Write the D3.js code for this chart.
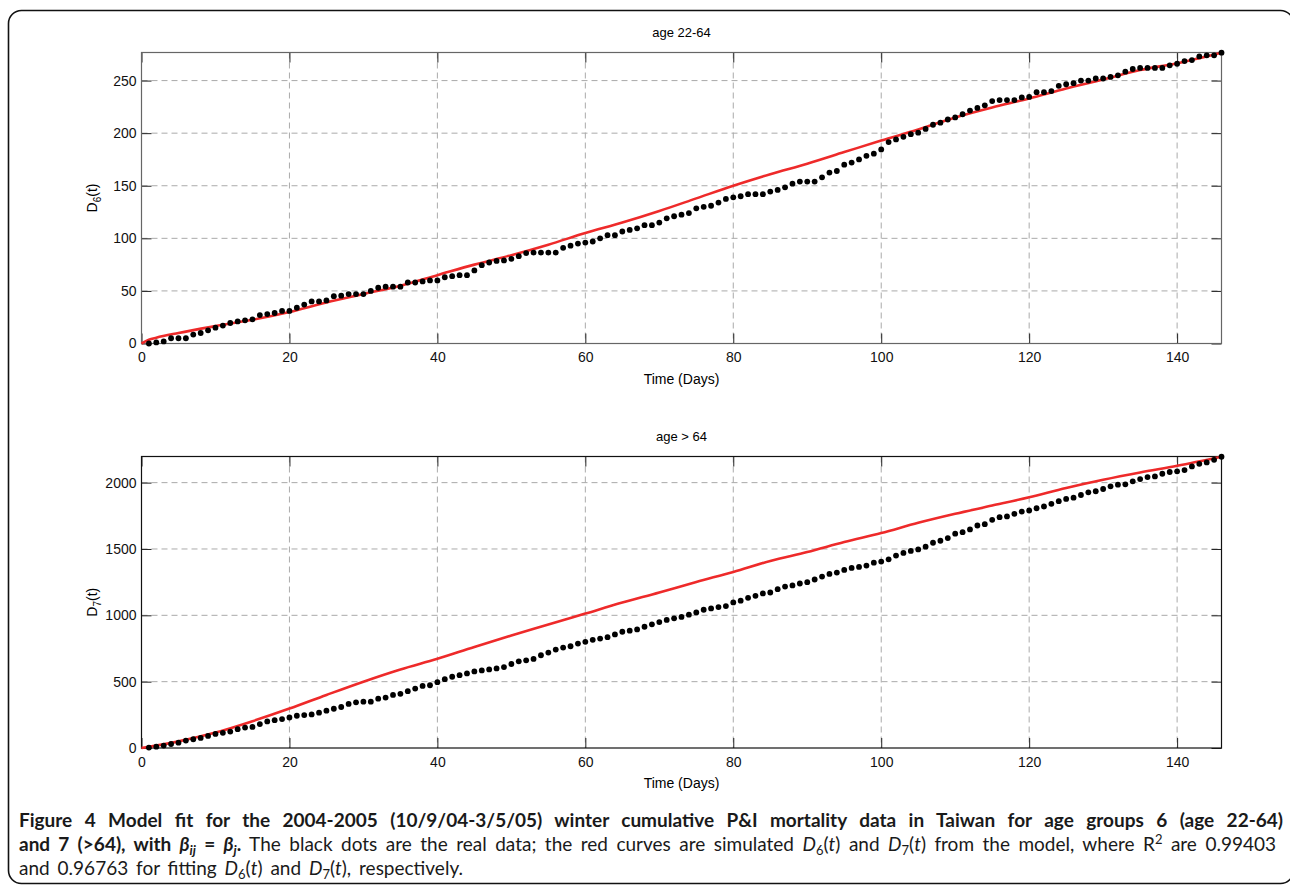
<!DOCTYPE html>
<html>
<head>
<meta charset="utf-8">
<script src="https://cdn.jsdelivr.net/npm/d3@7"></script>
<style>
  html, body { margin: 0; padding: 0; background: #fff; }
  svg { display: block; }
  .tick text { font-family: "Liberation Sans", Arial, sans-serif; font-size: 14px; fill: #111; }
</style>
</head>
<body>
<svg id="chart" width="1290" height="889"></svg>
<script>
// observed cumulative deaths, one dot per day (days 1..146)
const obsDays = d3.range(1, 147)
const obsD6 = [
  0, 1, 2, 5, 5, 5, 8.5, 10, 12.5, 15,
  17, 19.5, 21, 22, 23, 27, 28, 29, 31, 31,
  34, 37, 40, 40, 41, 45, 45.5, 47, 47, 47,
  50, 53, 54, 54, 54, 58, 58, 59, 60, 60,
  63, 64, 65, 65, 69.5, 74.5, 77, 78.5, 79, 80.5,
  83, 86, 86.5, 86.5, 86.5, 86.5, 91, 93, 95, 96,
  97, 100, 103, 103, 106.5, 108, 109.5, 112.5, 112.5, 115,
  119, 121, 122.5, 124, 128.5, 130, 131, 134, 137.5, 139,
  140, 142, 142, 142, 144.5, 146, 148.5, 152, 154, 154,
  154, 158, 162.5, 164, 170, 172, 175, 178.5, 180.5, 184.5,
  191.5, 194, 196.5, 199, 200.5, 204, 208, 210, 213, 215,
  218, 221.5, 224, 226.5, 230.5, 231.5, 231.5, 231.5, 234, 234.5,
  239, 239, 240, 245, 246.5, 247.5, 250, 250, 252, 252,
  253.5, 255, 258.5, 261, 262, 262, 262, 262, 264.5, 266,
  268.5, 269.5, 273, 274, 274, 276.5
]
const obsD7 = [
  3, 10, 18, 30, 40, 56, 66, 76, 91, 106,
  114, 124, 142, 154, 159, 180, 200, 210, 218, 230,
  243, 248, 253, 266, 281, 296, 309, 332, 344, 349,
  349, 372, 380, 400, 408, 428, 448, 468, 473, 496,
  519, 537, 549, 562, 577, 585, 592, 600, 610, 633,
  653, 661, 671, 699, 719, 742, 757, 767, 787, 800,
  815, 825, 835, 856, 876, 884, 894, 914, 932, 949,
  965, 977, 988, 1005, 1022, 1042, 1052, 1062, 1070, 1097,
  1110, 1132, 1147, 1165, 1172, 1197, 1217, 1225, 1240, 1250,
  1270, 1292, 1312, 1322, 1342, 1357, 1365, 1375, 1397, 1405,
  1422, 1450, 1470, 1485, 1497, 1517, 1547, 1562, 1582, 1615,
  1627, 1647, 1677, 1687, 1720, 1740, 1745, 1765, 1782, 1790,
  1807, 1820, 1840, 1860, 1877, 1887, 1907, 1927, 1935, 1952,
  1972, 1985, 1987, 2010, 2027, 2042, 2047, 2067, 2080, 2085,
  2095, 2122, 2142, 2152, 2172, 2195
]

// simulated model curves, read at sample days
const simDays6 = [0, 1, 2, 5, 10, 15, 20, 25, 30, 35, 40, 45, 50, 55, 60, 65, 70, 75, 80, 85, 90, 95, 100, 105, 110, 115, 120, 125, 130, 135, 140, 146]
const simD6 = [0, 3.5, 5.5, 10, 16.5, 22.5, 30, 39, 47, 55, 65, 75, 84, 94, 105, 115, 126, 138, 150, 161, 171, 182, 193, 203.5, 215, 224.5, 233, 242.5, 251, 260, 266.5, 276.5]
const simDays7 = [0, 5, 10, 15, 20, 25, 30, 35, 40, 45, 50, 55, 60, 65, 70, 75, 80, 85, 90, 95, 100, 105, 110, 115, 120, 125, 130, 135, 140, 146]
const simD7 = [0, 50, 116, 202, 297, 400, 500, 592, 672, 762, 848, 930, 1013, 1096, 1172, 1252, 1327, 1410, 1477, 1552, 1620, 1697, 1765, 1827, 1890, 1960, 2022, 2077, 2127, 2195]

const xTicks = [0, 20, 40, 60, 80, 100, 120, 140]
const yTicks6 = [0, 50, 100, 150, 200, 250]
const yTicks7 = [0, 500, 1000, 1500, 2000]

const svg = d3.select('#chart')
const FONT = '"Liberation Sans", Arial, sans-serif'

// outer frame (right edge runs just past the picture)
svg.append('rect')
  .attr('x', 8.5).attr('y', 10.5)
  .attr('width', 1285).attr('height', 873)
  .attr('rx', 13).attr('ry', 13)
  .attr('fill', 'none').attr('stroke', '#111').attr('stroke-width', 1.6)

function panel({top, bottom, left, right, yMax, yTicks, obs, simX, simY, title, sub, boxColor}) {
  const x = d3.scaleLinear([0, 146], [left, right])
  const y = d3.scaleLinear([0, yMax], [bottom, top])
  const g = svg.append('g')

  // dashed grid
  g.append('g').selectAll('line').data(xTicks.filter(d => d > 0)).join('line')
    .attr('x1', d => x(d)).attr('x2', d => x(d))
    .attr('y1', top).attr('y2', bottom)
    .attr('stroke', '#aaa').attr('stroke-dasharray', '6,4')
  g.append('g').selectAll('line').data(yTicks.filter(d => d > 0)).join('line')
    .attr('x1', left).attr('x2', right)
    .attr('y1', d => y(d)).attr('y2', d => y(d))
    .attr('stroke', '#aaa').attr('stroke-dasharray', '6,4')

  // axes with inward ticks on all four sides
  const fmt = d3.format('d')
  const ax = [
    [d3.axisBottom(x).tickValues(xTicks).tickSize(-10).tickPadding(9).tickFormat(fmt), `translate(0,${bottom})`],
    [d3.axisTop(x).tickValues(xTicks).tickSize(-10).tickFormat(''), `translate(0,${top})`],
    [d3.axisLeft(y).tickValues(yTicks).tickSize(-10).tickPadding(5).tickFormat(fmt), `translate(${left},0)`],
    [d3.axisRight(y).tickValues(yTicks).tickSize(-10).tickFormat(''), `translate(${right},0)`]
  ]
  ax.forEach(([a, t]) => {
    const ag = g.append('g').attr('transform', t).call(a.tickSizeOuter(0))
    ag.select('.domain').remove()
    ag.selectAll('.tick line').attr('stroke', '#222')
  })

  // box
  g.append('rect')
    .attr('x', left).attr('y', top)
    .attr('width', right - left).attr('height', bottom - top)
    .attr('fill', 'none').attr('stroke', boxColor).attr('stroke-width', 1.2)

  // model curve
  const line = d3.line()
    .x((d, i) => x(simX[i]))
    .y(d => y(d))
    .curve(d3.curveMonotoneX)
  g.append('path')
    .attr('d', line(simY))
    .attr('fill', 'none').attr('stroke', '#ee2a2a').attr('stroke-width', 2.6)

  // observed dots
  g.append('g').selectAll('circle').data(obs).join('circle')
    .attr('cx', (d, i) => x(obsDays[i]))
    .attr('cy', d => y(d))
    .attr('r', 2.9)
    .attr('fill', '#000')

  // titles
  const cx = (left + right) / 2
  g.append('text').attr('x', cx).attr('y', top - 16)
    .attr('text-anchor', 'middle').attr('font-family', FONT).attr('font-size', 13)
    .text(title)
  g.append('text').attr('x', cx).attr('y', bottom + 40)
    .attr('text-anchor', 'middle').attr('font-family', FONT).attr('font-size', 14)
    .text('Time (Days)')
  const yl = g.append('text')
    .attr('transform', `translate(${left - 45},${(top + bottom) / 2}) rotate(-90)`)
    .attr('text-anchor', 'middle').attr('font-family', FONT).attr('font-size', 14)
  yl.append('tspan').text('D')
  yl.append('tspan').attr('dy', 4).attr('font-size', 10).text(sub)
  yl.append('tspan').attr('dy', -4).text('(t)')
}

panel({top: 52.5, bottom: 343.5, left: 141.5, right: 1221.5, yMax: 276.7, yTicks: yTicks6,
  obs: obsD6, simX: simDays6, simY: simD6, title: 'age 22-64', sub: '6', boxColor: '#666'})
panel({top: 456.5, bottom: 748, left: 141.5, right: 1221.5, yMax: 2197, yTicks: yTicks7,
  obs: obsD7, simX: simDays7, simY: simD7, title: 'age > 64', sub: '7', boxColor: '#111'})

// caption
const CAP = 'Lato, "Open Sans", sans-serif'
const capLines = [
  {y: 827, right: 1283, parts: [
    {t: 'Figure 4 Model fit for the 2004-2005 (10/9/04-3/5/05) winter cumulative P&I mortality data in Taiwan for age groups 6 (age 22-64)', w: 'bold'}
  ]},
  {y: 851, right: 1276, parts: [
    {t: 'and 7 (>64), with ', w: 'bold'},
    {t: 'β', w: 'bold', i: true}, {t: 'ij', w: 'bold', i: true, s: 'sub'},
    {t: ' = ', w: 'bold'},
    {t: 'β', w: 'bold', i: true}, {t: 'j', w: 'bold', i: true, s: 'sub'},
    {t: '.', w: 'bold'},
    {t: ' The black dots are the real data; the red curves are simulated '},
    {t: 'D', i: true}, {t: '6', s: 'sub'}, {t: '('}, {t: 't', i: true}, {t: ') and '},
    {t: 'D', i: true}, {t: '7', s: 'sub'}, {t: '('}, {t: 't', i: true}, {t: ') from the model, where R'},
    {t: '2', s: 'sup'}, {t: ' are 0.99403'}
  ]},
  {y: 875, right: 463, parts: [
    {t: 'and 0.96763 for fitting '},
    {t: 'D', i: true}, {t: '6', s: 'sub'}, {t: '('}, {t: 't', i: true}, {t: ') and '},
    {t: 'D', i: true}, {t: '7', s: 'sub'}, {t: '('}, {t: 't', i: true}, {t: '), respectively.'}
  ]}
]

capLines.forEach(line => {
  const txt = svg.append('text')
    .attr('x', 19).attr('y', line.y)
    .attr('font-family', CAP).attr('font-size', 19).attr('fill', '#1a1a1a')
    .style('white-space', 'pre')
  let shift = 0
  line.parts.forEach(p => {
    const ts = txt.append('tspan').text(p.t)
    if (p.w) ts.attr('font-weight', p.w)
    if (p.i) ts.attr('font-style', 'italic')
    const target = p.s === 'sub' ? 4 : p.s === 'sup' ? -7 : 0
    if (target !== shift) { ts.attr('dy', target - shift); shift = target }
    if (p.s) ts.attr('font-size', 13)
  })
  const natural = txt.node().getComputedTextLength()
  const spaces = line.parts.map(p => p.t).join('').split(' ').length - 1
  txt.attr('word-spacing', (line.right - 19 - natural) / spaces)
})
</script>
</body>
</html>
